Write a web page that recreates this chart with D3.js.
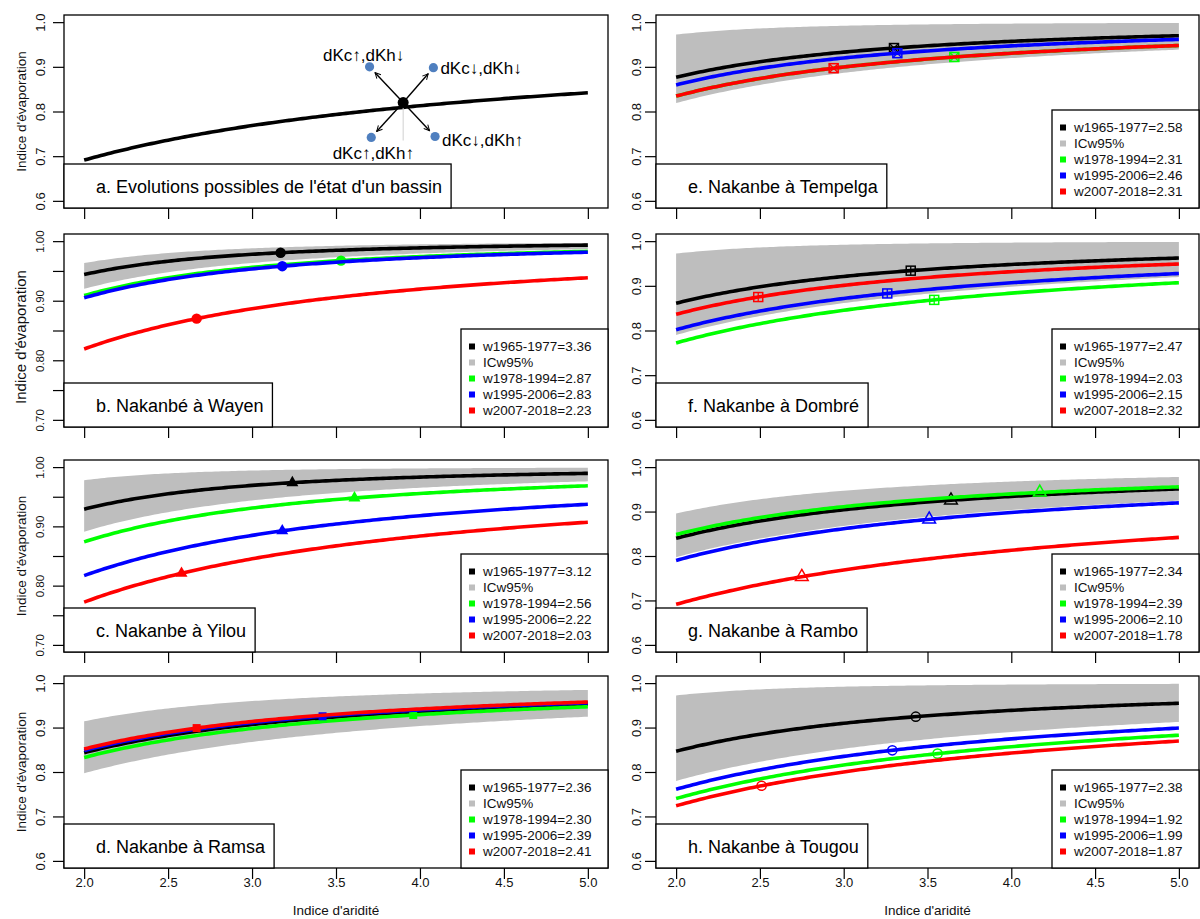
<!DOCTYPE html>
<html><head><meta charset="utf-8">
<script src="https://cdn.jsdelivr.net/npm/d3@7"></script>
<style>
body{margin:0;background:#fff;}
svg{display:block;font-family:"Liberation Sans",Arial,sans-serif;}
</style>
</head><body>
<svg id="c" width="1200" height="919"></svg>
<script>
// ---------------- data ----------------
const xTicks = [2.0, 2.5, 3.0, 3.5, 4.0, 4.5, 5.0];
const yTicksCoarse = [0.6, 0.7, 0.8, 0.9, 1.0];
const yTicksFine = [0.70, 0.75, 0.80, 0.85, 0.90, 0.95, 1.00];
const yTickLabelsFine = [0.70, 0.80, 0.90, 1.00];
const legendLabels = ["w1965-1977", "ICw95%", "w1978-1994", "w1995-2006", "w2007-2018"];
const panelTitles = [
  "a. Evolutions possibles de l'état d'un bassin",
  "b. Nakanbé à Wayen",
  "c. Nakanbe à Yilou",
  "d. Nakanbe à Ramsa",
  "e. Nakanbe à Tempelga",
  "f. Nakanbe à Dombré",
  "g. Nakanbe à Rambo",
  "h. Nakanbe à Tougou"
];
const yAxisTitle = "Indice d'évaporation";
const xAxisTitle = "Indice d'aridité";

// panel a (schematic)
const wA = 1.78;
const aridA = 3.9;
const evapA = 0.82;
const arrowTargetX = [3.70, 4.08, 3.71, 4.09];
const arrowTargetY = [0.900, 0.898, 0.742, 0.744];
const arrowLabels = ["dKc\u2191,dKh\u2193", "dKc\u2193,dKh\u2193", "dKc\u2191,dKh\u2191", "dKc\u2193,dKh\u2191"];

// Fu parameter w per period: [1965-1977, 1978-1994, 1995-2006, 2007-2018]
const wB = [3.36, 2.87, 2.83, 2.23];
const wC = [3.12, 2.56, 2.22, 2.03];
const wD = [2.36, 2.30, 2.39, 2.41];
const wE = [2.58, 2.31, 2.46, 2.31];
const wF = [2.47, 2.03, 2.15, 2.32];
const wG = [2.34, 2.39, 2.10, 1.78];
const wH = [2.38, 1.92, 1.99, 1.87];

// mean aridity index of each period (marker position)
const aridB = [3.17, 3.53, 3.18, 2.67];
const aridC = [3.24, 3.61, 3.18, 2.58];
const aridD = [3.40, 3.96, 3.42, 2.67];
const aridE = [3.30, 3.66, 3.32, 2.94];
const aridF = [3.40, 3.54, 3.26, 2.49];
const aridG = [3.64, 4.17, 3.51, 2.75];
const aridH = [3.43, 3.56, 3.29, 2.51];

// 95% confidence interval of w (1965-1977)
const bandB = [3.00, 3.80];
const bandC = [2.70, 4.35];
const bandD = [2.13, 2.93];
const bandE = [2.23, 4.10];
const bandF = [2.10, 4.10];
const bandG = [2.13, 2.74];
const bandH = [2.06, 4.10];

const yMinByPanel = [0.6, 0.7, 0.7, 0.6, 0.6, 0.6, 0.6, 0.6];

// ---------------- styles / layout ----------------
const seriesColors = ["#000000", "#00FF00", "#0000FF", "#FF0000"];
const legendColors = ["#000000", "#BEBEBE", "#00FF00", "#0000FF", "#FF0000"];
const bandColor = "#BEBEBE";
const markerTypes = [null, "fcircle", "ftriangle", "fsquare", "squarex", "squareplus", "otriangle", "ocircle"];
const cols = [{left: 64, right: 608, lab: 24}, {left: 656, right: 1199, lab: 20}];
const rows = [{top: 15, bottom: 208}, {top: 234, bottom: 427}, {top: 460, bottom: 652}, {top: 676, bottom: 868}];

const wList = [null, wB, wC, wD, wE, wF, wG, wH];
const aridList = [null, aridB, aridC, aridD, aridE, aridF, aridG, aridH];
const bandList = [null, bandB, bandC, bandD, bandE, bandF, bandG, bandH];

function fu(x, w) { return 1 + x - Math.pow(1 + Math.pow(x, w), 1 / w); }

const svg = d3.select("#c");
svg.append("rect").attr("width", 1200).attr("height", 919).attr("fill", "#fff");
const defs = svg.append("defs");
defs.append("marker").attr("id", "arr").attr("viewBox", "0 0 10 10").attr("refX", 9).attr("refY", 5)
  .attr("markerWidth", 7).attr("markerHeight", 7).attr("orient", "auto").attr("markerUnits", "userSpaceOnUse")
  .append("path").attr("d", "M1,1 L9,5 L1,9").attr("fill", "none").attr("stroke", "#000").attr("stroke-width", 1.4);

const xs = d3.range(2, 5.0001, 0.02);

panelTitles.forEach((title, i) => {
  const col = cols[i < 4 ? 0 : 1];
  const row = rows[i % 4];
  const ymin = yMinByPanel[i];
  const pad = 0.04 * (1 - ymin);
  const x = d3.scaleLinear().domain([1.88, 5.12]).range([col.left, col.right]);
  const y = d3.scaleLinear().domain([ymin - pad, 1 + pad]).range([row.bottom, row.top]);
  const g = svg.append("g");
  const clipId = "clip" + i;
  defs.append("clipPath").attr("id", clipId).append("rect")
    .attr("x", col.left).attr("y", row.top).attr("width", col.right - col.left).attr("height", row.bottom - row.top);
  const pg = g.append("g").attr("clip-path", `url(#${clipId})`);
  const line = d3.line().x(d => x(d[0])).y(d => y(d[1]));

  if (i === 0) {
    pg.append("path").datum(xs.map(v => [v, fu(v, wA)])).attr("d", line)
      .attr("fill", "none").attr("stroke", "#000").attr("stroke-width", 3.6);
    const cx = x(aridA), cy = y(evapA);
    pg.append("line").attr("x1", cx).attr("y1", cy).attr("x2", cx).attr("y2", y(0.735))
      .attr("stroke", "#d0d0d0").attr("stroke-width", 1);
    arrowTargetX.forEach((tx, k) => {
      const px = x(tx), py = y(arrowTargetY[k]);
      const dx = px - cx, dy = py - cy, L = Math.hypot(dx, dy);
      const ex = px - dx / L * 8, ey = py - dy / L * 8;
      pg.append("line").attr("x1", cx).attr("y1", cy).attr("x2", ex).attr("y2", ey)
        .attr("stroke", "#000").attr("stroke-width", 1.4).attr("marker-end", "url(#arr)");
      pg.append("circle").attr("cx", px).attr("cy", py).attr("r", 4.6).attr("fill", "#4F7FBF");
      const t = pg.append("text").text(arrowLabels[k]).attr("font-size", 17).attr("fill", "#000");
      if (k === 0) t.attr("x", px - 6).attr("y", py - 6).attr("text-anchor", "middle");
      if (k === 1) t.attr("x", px + 7).attr("y", py + 6).attr("text-anchor", "start");
      if (k === 2) t.attr("x", px + 2).attr("y", py + 22).attr("text-anchor", "middle");
      if (k === 3) t.attr("x", px + 7).attr("y", py + 9).attr("text-anchor", "start");
    });
    pg.append("circle").attr("cx", cx).attr("cy", cy).attr("r", 5.5).attr("fill", "#000");
  } else {
    const band = bandList[i];
    const area = d3.area().x(d => x(d)).y0(d => y(fu(d, band[0]))).y1(d => y(fu(d, band[1])));
    pg.append("path").datum(xs).attr("d", area).attr("fill", bandColor).attr("stroke", "none");
    const ws = wList[i], ar = aridList[i];
    ws.forEach((w, k) => {
      const c = seriesColors[k];
      pg.append("path").datum(xs.map(v => [v, fu(v, w)])).attr("d", line)
        .attr("fill", "none").attr("stroke", c).attr("stroke-width", 3.6);
      const mx = x(ar[k]), my = y(fu(ar[k], w));
      const type = markerTypes[i];
      const mg = pg.append("g").attr("transform", `translate(${mx},${my})`);
      if (type === "fcircle") mg.append("circle").attr("r", 5.2).attr("fill", c);
      if (type === "ftriangle") mg.append("path").attr("d", d3.symbol(d3.symbolTriangle, 62)()).attr("fill", c);
      if (type === "fsquare") mg.append("rect").attr("x", -4).attr("y", -4).attr("width", 8).attr("height", 8).attr("fill", c);
      if (type === "otriangle") mg.append("path").attr("d", d3.symbol(d3.symbolTriangle, 70)()).attr("fill", "none").attr("stroke", c).attr("stroke-width", 1.5);
      if (type === "ocircle") mg.append("circle").attr("r", 4.6).attr("fill", "none").attr("stroke", c).attr("stroke-width", 1.5);
      if (type === "squarex" || type === "squareplus") {
        mg.append("rect").attr("x", -4.5).attr("y", -4.5).attr("width", 9).attr("height", 9)
          .attr("fill", "none").attr("stroke", c).attr("stroke-width", 1.5);
        const p = type === "squarex" ? "M-4.5,-4.5L4.5,4.5M-4.5,4.5L4.5,-4.5" : "M0,-4.5L0,4.5M-4.5,0L4.5,0";
        mg.append("path").attr("d", p).attr("stroke", c).attr("stroke-width", 1.3);
      }
    });
  }

  // frame
  g.append("rect").attr("x", col.left).attr("y", row.top).attr("width", col.right - col.left)
    .attr("height", row.bottom - row.top).attr("fill", "none").attr("stroke", "#000").attr("stroke-width", 1.3);

  // x axis
  const bottomRow = (i % 4) === 3;
  const xa = d3.axisBottom(x).tickValues(xTicks).tickSize(11).tickPadding(5)
    .tickFormat(bottomRow ? d3.format(".1f") : () => "");
  const xg = g.append("g").attr("transform", `translate(0,${row.bottom})`).call(xa);
  xg.select(".domain").remove();
  xg.selectAll("line").attr("stroke", "#000").attr("stroke-width", 1.2);
  xg.selectAll("text").attr("font-size", 13).attr("font-family", "Liberation Sans, Arial, sans-serif")
    .attr("fill", "#111").attr("dy", "0.2em");

  // y axis
  const fine = ymin === 0.7;
  const ya = d3.axisLeft(y).tickValues(fine ? yTicksFine : yTicksCoarse).tickSize(11)
    .tickFormat(d => fine ? (yTickLabelsFine.some(v => Math.abs(v - d) < 1e-9) ? d3.format(".2f")(d) : "") : d3.format(".1f")(d));
  const yg = g.append("g").attr("transform", `translate(${col.left},0)`).call(ya);
  yg.select(".domain").remove();
  yg.selectAll("line").attr("stroke", "#000").attr("stroke-width", 1.2);
  yg.selectAll("text").attr("transform", "rotate(-90)").attr("x", 0).attr("y", -col.lab)
    .attr("dy", "0.35em").attr("text-anchor", "middle")
    .attr("font-size", fine ? 11.5 : 13).attr("font-family", "Liberation Sans, Arial, sans-serif").attr("fill", "#111");

  // y title on left column
  if (i < 4) {
    const cyT = i === 1 ? 337 : (row.top + row.bottom) / 2;
    g.append("text").text(yAxisTitle).attr("transform", `translate(21,${cyT}) rotate(-90)`)
      .attr("text-anchor", "middle").attr("dy", "0.35em").attr("font-size", i === 1 ? 15 : 13.5).attr("fill", "#111");
  }
  // x title on bottom row
  if (bottomRow) {
    g.append("text").text(xAxisTitle).attr("x", (x(2) + x(5)) / 2).attr("y", 910)
      .attr("text-anchor", "middle").attr("dy", "0.35em").attr("font-size", 13.5).attr("fill", "#111");
  }

  // panel title box
  const lb = g.append("g");
  const lrect = lb.append("rect");
  const lt = lb.append("text").text(title).attr("x", col.left + 32).attr("y", row.bottom - 21)
    .attr("dy", "0.35em").attr("font-size", 18).attr("fill", "#000");
  const tl = lt.node().getComputedTextLength();
  lrect.attr("x", col.left).attr("y", row.bottom - 44).attr("width", tl + 41).attr("height", 44)
    .attr("fill", "#fff").attr("stroke", "#000").attr("stroke-width", 1.3);

  // legend
  if (i > 0) {
    const lx = col.right - 147, ly = row.bottom - 98;
    const lg = g.append("g");
    lg.append("rect").attr("x", lx).attr("y", ly).attr("width", 147).attr("height", 98)
      .attr("fill", "#fff").attr("stroke", "#000").attr("stroke-width", 1.3);
    const ws = wList[i];
    legendLabels.forEach((lab, k) => {
      const ey = ly + 17.5 + k * 16;
      lg.append("rect").attr("x", lx + 8).attr("y", ey - 3).attr("width", 6).attr("height", 6).attr("fill", legendColors[k]);
      let txt = lab;
      if (k !== 1) {
        const wi = k === 0 ? 0 : k - 1;
        txt = lab + "=" + d3.format(".2f")(ws[wi]);
      }
      lg.append("text").text(txt).attr("x", lx + 22).attr("y", ey).attr("dy", "0.35em")
        .attr("font-size", 13.5).attr("fill", "#111");
    });
  }
});
</script>
</body></html>
